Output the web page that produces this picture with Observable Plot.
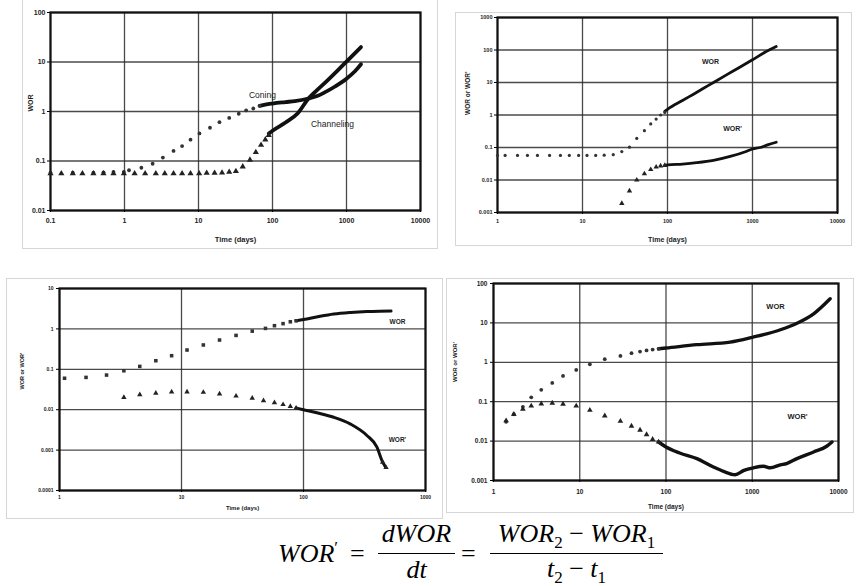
<!DOCTYPE html>
<html><head><meta charset="utf-8">
<script src="https://cdn.jsdelivr.net/npm/d3@7"></script>
<script src="https://cdn.jsdelivr.net/npm/@observablehq/plot@0.6"></script>
<style>
html,body{margin:0;padding:0;background:#fff;}
#root{position:relative;width:858px;height:586px;overflow:hidden;background:#fff;}
.box{position:absolute;border:1px solid #d6d6d6;box-sizing:border-box;}
.panel{position:absolute;}
.panel svg{overflow:visible;display:block;}
.eq{position:absolute;font-family:"Liberation Serif","Times New Roman",serif;font-size:26px;line-height:26px;color:#000;white-space:nowrap;}
.it{font-style:italic;}
.sub{font-size:17px;position:relative;top:6px;font-style:normal;}
.bar{position:absolute;height:0;border-top:1.7px solid #000;}
</style></head><body><div id="root"></div>
<script>
// ---------- Panel 1 (top-left): Coning vs Channeling ----------
const p1XTicks = [0.1, 1, 10, 100, 1000, 10000];
const p1XLabels = ["0.1", "1", "10", "100", "1000", "10000"];
const p1YTicks = [0.01, 0.1, 1, 10, 100];
const p1YLabels = ["0.01", "0.1", "1", "10", "100"];
const p1ConingPtT = [0.1, 0.2, 0.38, 0.52, 0.71, 0.98, 1.15, 1.69, 2.4, 3.3, 4.6, 6.0, 7.8, 10.3, 14.3, 19.2, 26, 35, 44, 55, 67];
const p1ConingPtW = [0.058, 0.058, 0.058, 0.059, 0.06, 0.06, 0.065, 0.073, 0.088, 0.117, 0.16, 0.2, 0.27, 0.36, 0.47, 0.61, 0.74, 0.9, 1.05, 1.15, 1.3];
const p1ConingLnT = [67, 80, 100, 150, 200, 306, 400, 500, 700, 1000, 1300, 1570];
const p1ConingLnW = [1.3, 1.38, 1.45, 1.55, 1.62, 1.83, 2.05, 2.4, 3.2, 4.6, 6.5, 9.0];
const p1ChanPtT = [0.1, 0.14, 0.2, 0.27, 0.38, 0.52, 0.71, 0.98, 1.37, 1.9, 2.65, 3.5, 4.6, 6.0, 7.8, 10.2, 12.9, 16.5, 20.8, 26, 32, 39.6, 49.6, 59.5, 70, 80, 89];
const p1ChanPtW = [0.056, 0.056, 0.056, 0.056, 0.056, 0.056, 0.056, 0.056, 0.056, 0.056, 0.056, 0.056, 0.056, 0.056, 0.056, 0.056, 0.057, 0.057, 0.058, 0.06, 0.062, 0.077, 0.105, 0.15, 0.21, 0.27, 0.33];
const p1ChanLnT = [89, 100, 150, 218, 306, 400, 550, 750, 1000, 1570];
const p1ChanLnW = [0.36, 0.41, 0.6, 0.91, 1.83, 2.7, 4.2, 6.6, 10.2, 20];
const p1LabelText = ["Coning", "Channeling"];
const p1LabelT = [73, 645];
const p1LabelW = [2.1, 0.55];

// ---------- Panel 2 (top-right) ----------
const p2XTicks = [1, 10, 100, 1000, 10000];
const p2XLabels = ["1", "10", "100", "1000", "10000"];
const p2YTicks = [0.001, 0.01, 0.1, 1, 10, 100, 1000];
const p2YLabels = ["0.001", "0.01", "0.1", "1", "10", "100", "1000"];
const p2WorPtT = [1.0, 1.23, 1.72, 2.25, 2.95, 4.1, 5.5, 7.0, 9.0, 11.3, 14.3, 18, 23, 29, 35.7, 43.5, 53.5, 63.5, 73.5, 83, 93];
const p2WorPtW = [0.057, 0.057, 0.057, 0.057, 0.057, 0.057, 0.057, 0.057, 0.057, 0.057, 0.057, 0.058, 0.06, 0.075, 0.102, 0.19, 0.33, 0.53, 0.75, 1.0, 1.2];
const p2WorLnT = [93, 100, 150, 200, 300, 500, 700, 1000, 1400, 1900];
const p2WorLnW = [1.3, 1.5, 2.8, 4.3, 8.0, 17.5, 29, 50, 85, 128];
const p2DerPtT = [29, 35.7, 43.5, 53.5, 63.5, 73.5, 83, 93];
const p2DerPtW = [0.0019, 0.0046, 0.01, 0.0155, 0.021, 0.025, 0.027, 0.028];
const p2DerLnT = [93, 100, 150, 220, 347, 546, 858, 1000, 1230, 1500, 1900];
const p2DerLnW = [0.028, 0.029, 0.031, 0.034, 0.04, 0.053, 0.077, 0.09, 0.1, 0.12, 0.145];
const p2LabelText = ["WOR", "WOR'"];
const p2LabelT = [320, 582];
const p2LabelW = [44, 0.385];

// ---------- Panel 3 (bottom-left) ----------
const p3XTicks = [1, 10, 100, 1000];
const p3XLabels = ["1", "10", "100", "1000"];
const p3YTicks = [0.0001, 0.001, 0.01, 0.1, 1, 10];
const p3YLabels = ["0.0001", "0.001", "0.01", "0.1", "1", "10"];
const p3WorPtT = [1.1, 1.65, 2.43, 3.37, 4.55, 6.16, 8.3, 11.1, 15.1, 20.5, 28, 38, 48.8, 57.8, 68, 78, 87];
const p3WorPtW = [0.06, 0.063, 0.072, 0.092, 0.118, 0.163, 0.217, 0.30, 0.40, 0.53, 0.69, 0.88, 1.03, 1.2, 1.35, 1.5, 1.59];
const p3WorLnT = [87, 100, 131, 177, 243, 331, 420, 522];
const p3WorLnW = [1.59, 1.7, 2.0, 2.34, 2.56, 2.7, 2.75, 2.77];
const p3DerPtT = [3.37, 4.55, 6.16, 8.3, 11.1, 15.1, 20.5, 28, 38, 47, 57.8, 68, 78, 87, 445, 475];
const p3DerPtW = [0.0202, 0.0236, 0.0258, 0.0275, 0.0275, 0.027, 0.0245, 0.0218, 0.0194, 0.0168, 0.015, 0.0134, 0.0121, 0.011, 0.0005, 0.00037];
const p3DerLnT = [87, 100, 131, 177, 243, 331, 400, 440, 470];
const p3DerLnW = [0.011, 0.01, 0.0083, 0.0065, 0.0044, 0.0023, 0.00118, 0.00055, 0.00038];
const p3LabelText = ["WOR", "WOR'"];
const p3LabelT = [589, 589];
const p3LabelW = [1.52, 0.0018];

// ---------- Panel 4 (bottom-right) ----------
const p4XTicks = [1, 10, 100, 1000, 10000];
const p4XLabels = ["1", "10", "100", "1000", "10000"];
const p4YTicks = [0.001, 0.01, 0.1, 1, 10, 100];
const p4YLabels = ["0.001", "0.01", "0.1", "1", "10", "100"];
const p4WorPtT = [1.4, 1.72, 2.19, 2.74, 3.58, 4.8, 6.4, 9.1, 13.1, 19.5, 29.6, 39.8, 50, 59.5, 70, 82];
const p4WorPtW = [0.031, 0.048, 0.074, 0.129, 0.2, 0.30, 0.45, 0.64, 0.89, 1.2, 1.45, 1.7, 1.87, 2.0, 2.1, 2.2];
const p4WorLnT = [82, 100, 228, 555, 1000, 2120, 3300, 5150, 8000];
const p4WorLnW = [2.2, 2.3, 2.8, 3.25, 4.3, 6.7, 9.8, 17, 41];
const p4DerPtT = [1.4, 1.72, 2.19, 2.74, 3.58, 4.8, 6.4, 9.1, 13.1, 19.5, 29.6, 39.8, 50, 59.5, 70, 82];
const p4DerPtW = [0.033, 0.048, 0.065, 0.078, 0.088, 0.092, 0.087, 0.078, 0.061, 0.044, 0.032, 0.024, 0.019, 0.0146, 0.0111, 0.0095];
const p4DerLnT = [82, 100, 144, 228, 355, 465, 633, 800, 1030, 1350, 1620, 2120, 2500, 3300, 5150, 7300, 8400];
const p4DerLnW = [0.0095, 0.0071, 0.005, 0.0036, 0.0022, 0.0017, 0.0014, 0.0018, 0.0021, 0.0023, 0.0021, 0.0025, 0.0027, 0.0036, 0.0053, 0.0074, 0.0095];
const p4LabelText = ["WOR", "WOR'"];
const p4LabelT = [1860, 3350];
const p4LabelW = [26, 0.042];

const timeTitle = "Time (days)";
const zip = (t, w) => t.map((d, i) => ({t: d, w: w[i]}));
const zipLab = (s, t, w) => s.map((d, i) => ({s: d, t: t[i], w: w[i]}));

const root = document.getElementById("root");

function addBox(l, t, w, h) {
  const b = document.createElement("div");
  b.className = "box";
  Object.assign(b.style, {left: l + "px", top: t + "px", width: w + "px", height: h + "px"});
  root.appendChild(b);
}

function panel(c) {
  const xMap = new Map(c.xTicks.map((d, i) => [d, c.xLabels[i]]));
  const yMap = new Map(c.yTicks.map((d, i) => [d, c.yLabels[i]]));
  const marks = [
    Plot.gridX(c.xTicks, {stroke: "#2a2a2a", strokeOpacity: 0.85, strokeWidth: 1.3}),
    Plot.gridY(c.yTicks, {stroke: "#2a2a2a", strokeOpacity: 0.85, strokeWidth: 1.3}),
    Plot.frame({stroke: "#111", strokeWidth: 2.2}),
    Plot.axisX(c.xTicks, {label: null, tickFormat: d => xMap.get(d), tickSize: 2, tickPadding: c.xPad, fontSize: c.tickFont, fontWeight: "bold", fill: "#222"}),
    Plot.axisY(c.yTicks, {label: null, tickFormat: d => yMap.get(d), tickSize: 3, tickPadding: c.yPad, fontSize: c.tickFont, fontWeight: "bold", fill: "#222"}),
    Plot.text([timeTitle], {frameAnchor: "bottom", dy: c.xTitleDy, lineAnchor: "middle", fontSize: c.titleFont, fontWeight: "bold", fill: "#222"}),
    Plot.text([c.yTitle], {frameAnchor: "left", rotate: -90, dx: c.yTitleDx, fontSize: c.titleFont - 0.5, fontWeight: "bold", fill: "#222"}),
    ...c.marks,
    Plot.text(c.labels, {x: "t", y: "w", text: "s", fontSize: c.labelFont, fontWeight: c.labelWeight, fill: "#222"})
  ];
  const svg = Plot.plot({
    width: c.width, height: c.height,
    marginLeft: c.ml, marginRight: c.mr, marginTop: c.mt, marginBottom: c.mb,
    x: {type: "log", domain: c.xDomain, label: null},
    y: {type: "log", domain: c.yDomain, label: null},
    style: {fontFamily: "'Liberation Sans', Arial, sans-serif", background: "transparent", overflow: "visible"},
    marks
  });
  const d = document.createElement("div");
  d.className = "panel";
  Object.assign(d.style, {left: c.left + "px", top: c.top + "px"});
  d.appendChild(svg);
  root.appendChild(d);
}

const ptC = (data, r) => Plot.dot(data, {x: "t", y: "w", r, fill: "#333", stroke: "none"});
const ptT = (data, r) => Plot.dot(data, {x: "t", y: "w", r, symbol: "triangle", fill: "#222", stroke: "none"});
const ptS = (data, r) => Plot.dot(data, {x: "t", y: "w", r, symbol: "square", fill: "#333", stroke: "none"});
const ln = (data, w) => Plot.line(data, {x: "t", y: "w", stroke: "#111", strokeWidth: w, curve: "monotone-x", strokeLinecap: "round"});

// outer light frames
addBox(22, -2, 416, 251);
addBox(455, 12, 397, 234);
addBox(6, 278, 437, 241);
addBox(446, 278, 408, 235);

panel({
  left: 0, top: 0, width: 437, height: 250, ml: 50, mr: 17, mt: 12, mb: 40,
  xDomain: [0.1, 10000], yDomain: [0.01, 100],
  xTicks: p1XTicks, xLabels: p1XLabels, yTicks: p1YTicks, yLabels: p1YLabels,
  xPad: 6, yPad: 2, tickFont: 7, titleFont: 7.5, xTitleDy: 29, yTitleDx: -20, yTitle: "WOR",
  labelFont: 8.5, labelWeight: "normal",
  labels: zipLab(p1LabelText, p1LabelT, p1LabelW),
  marks: [
    ln(zip(p1ConingLnT, p1ConingLnW), 3.8),
    ln(zip(p1ChanLnT, p1ChanLnW), 3.8),
    ptC(zip(p1ConingPtT, p1ConingPtW), 1.9),
    ptT(zip(p1ChanPtT, p1ChanPtW), 2.3)
  ]
});

panel({
  left: 455, top: 12, width: 396, height: 233, ml: 42, mr: 14, mt: 5, mb: 33,
  xDomain: [1, 10000], yDomain: [0.001, 1000],
  xTicks: p2XTicks, xLabels: p2XLabels, yTicks: p2YTicks, yLabels: p2YLabels,
  xPad: 5, yPad: 2, tickFont: 5.5, titleFont: 7, xTitleDy: 27, yTitleDx: -30, yTitle: "WOR or WOR'",
  labelFont: 7, labelWeight: "bold",
  labels: zipLab(p2LabelText, p2LabelT, p2LabelW),
  marks: [
    ln(zip(p2WorLnT, p2WorLnW), 2.8),
    ln(zip(p2DerLnT, p2DerLnW), 2.8),
    ptC(zip(p2WorPtT, p2WorPtW), 1.6),
    ptT(zip(p2DerPtT, p2DerPtW), 2)
  ]
});

panel({
  left: 0, top: 278, width: 442, height: 240, ml: 59, mr: 17, mt: 10, mb: 28,
  xDomain: [1, 1000], yDomain: [0.0001, 10],
  xTicks: p3XTicks, xLabels: p3XLabels, yTicks: p3YTicks, yLabels: p3YLabels,
  xPad: 3, yPad: 3, tickFont: 5, titleFont: 6, xTitleDy: 18, yTitleDx: -37, yTitle: "WOR or WOR'",
  labelFont: 6.5, labelWeight: "bold",
  labels: zipLab(p3LabelText, p3LabelT, p3LabelW),
  marks: [
    ln(zip(p3WorLnT, p3WorLnW), 3),
    ln(zip(p3DerLnT, p3DerLnW), 3),
    ptS(zip(p3WorPtT, p3WorPtW), 2),
    ptT(zip(p3DerPtT, p3DerPtW), 2)
  ]
});

panel({
  left: 446, top: 278, width: 407, height: 234, ml: 47, mr: 15, mt: 5, mb: 32,
  xDomain: [1, 10000], yDomain: [0.001, 100],
  xTicks: p4XTicks, xLabels: p4XLabels, yTicks: p4YTicks, yLabels: p4YLabels,
  xPad: 7, yPad: 3, tickFont: 6.5, titleFont: 6.5, xTitleDy: 26, yTitleDx: -38, yTitle: "WOR or WOR'",
  labelFont: 7.5, labelWeight: "bold",
  labels: zipLab(p4LabelText, p4LabelT, p4LabelW),
  marks: [
    ln(zip(p4WorLnT, p4WorLnW), 3.4),
    ln(zip(p4DerLnT, p4DerLnW), 3.4),
    ptC(zip(p4WorPtT, p4WorPtW), 1.9),
    ptT(zip(p4DerPtT, p4DerPtW), 2.1)
  ]
});

// ---------- Formula ----------
function eq(html, left, top, width, align) {
  const e = document.createElement("div");
  e.className = "eq";
  e.innerHTML = html;
  e.style.left = left + "px";
  e.style.top = top + "px";
  if (width) { e.style.width = width + "px"; e.style.textAlign = align || "center"; }
  root.appendChild(e);
}
function bar(left, top, width) {
  const b = document.createElement("div");
  b.className = "bar";
  Object.assign(b.style, {left: left + "px", top: top + "px", width: width + "px"});
  root.appendChild(b);
}
eq('<span class="it">WOR</span><span style="font-size:17px;position:relative;top:-9px;">′</span>', 278, 541);
eq('=', 350, 541);
eq('<span class="it">dWOR</span>', 378, 521, 77);
bar(378, 553, 77);
eq('<span class="it">dt</span>', 378, 557, 77);
eq('=', 461, 541);
eq('<span class="it">WOR</span><span class="sub">2</span> − <span class="it">WOR</span><span class="sub">1</span>', 490, 521, 173);
bar(490, 553, 173);
eq('<span class="it">t</span><span class="sub">2</span> − <span class="it">t</span><span class="sub">1</span>', 490, 556, 173);
</script></body></html>
